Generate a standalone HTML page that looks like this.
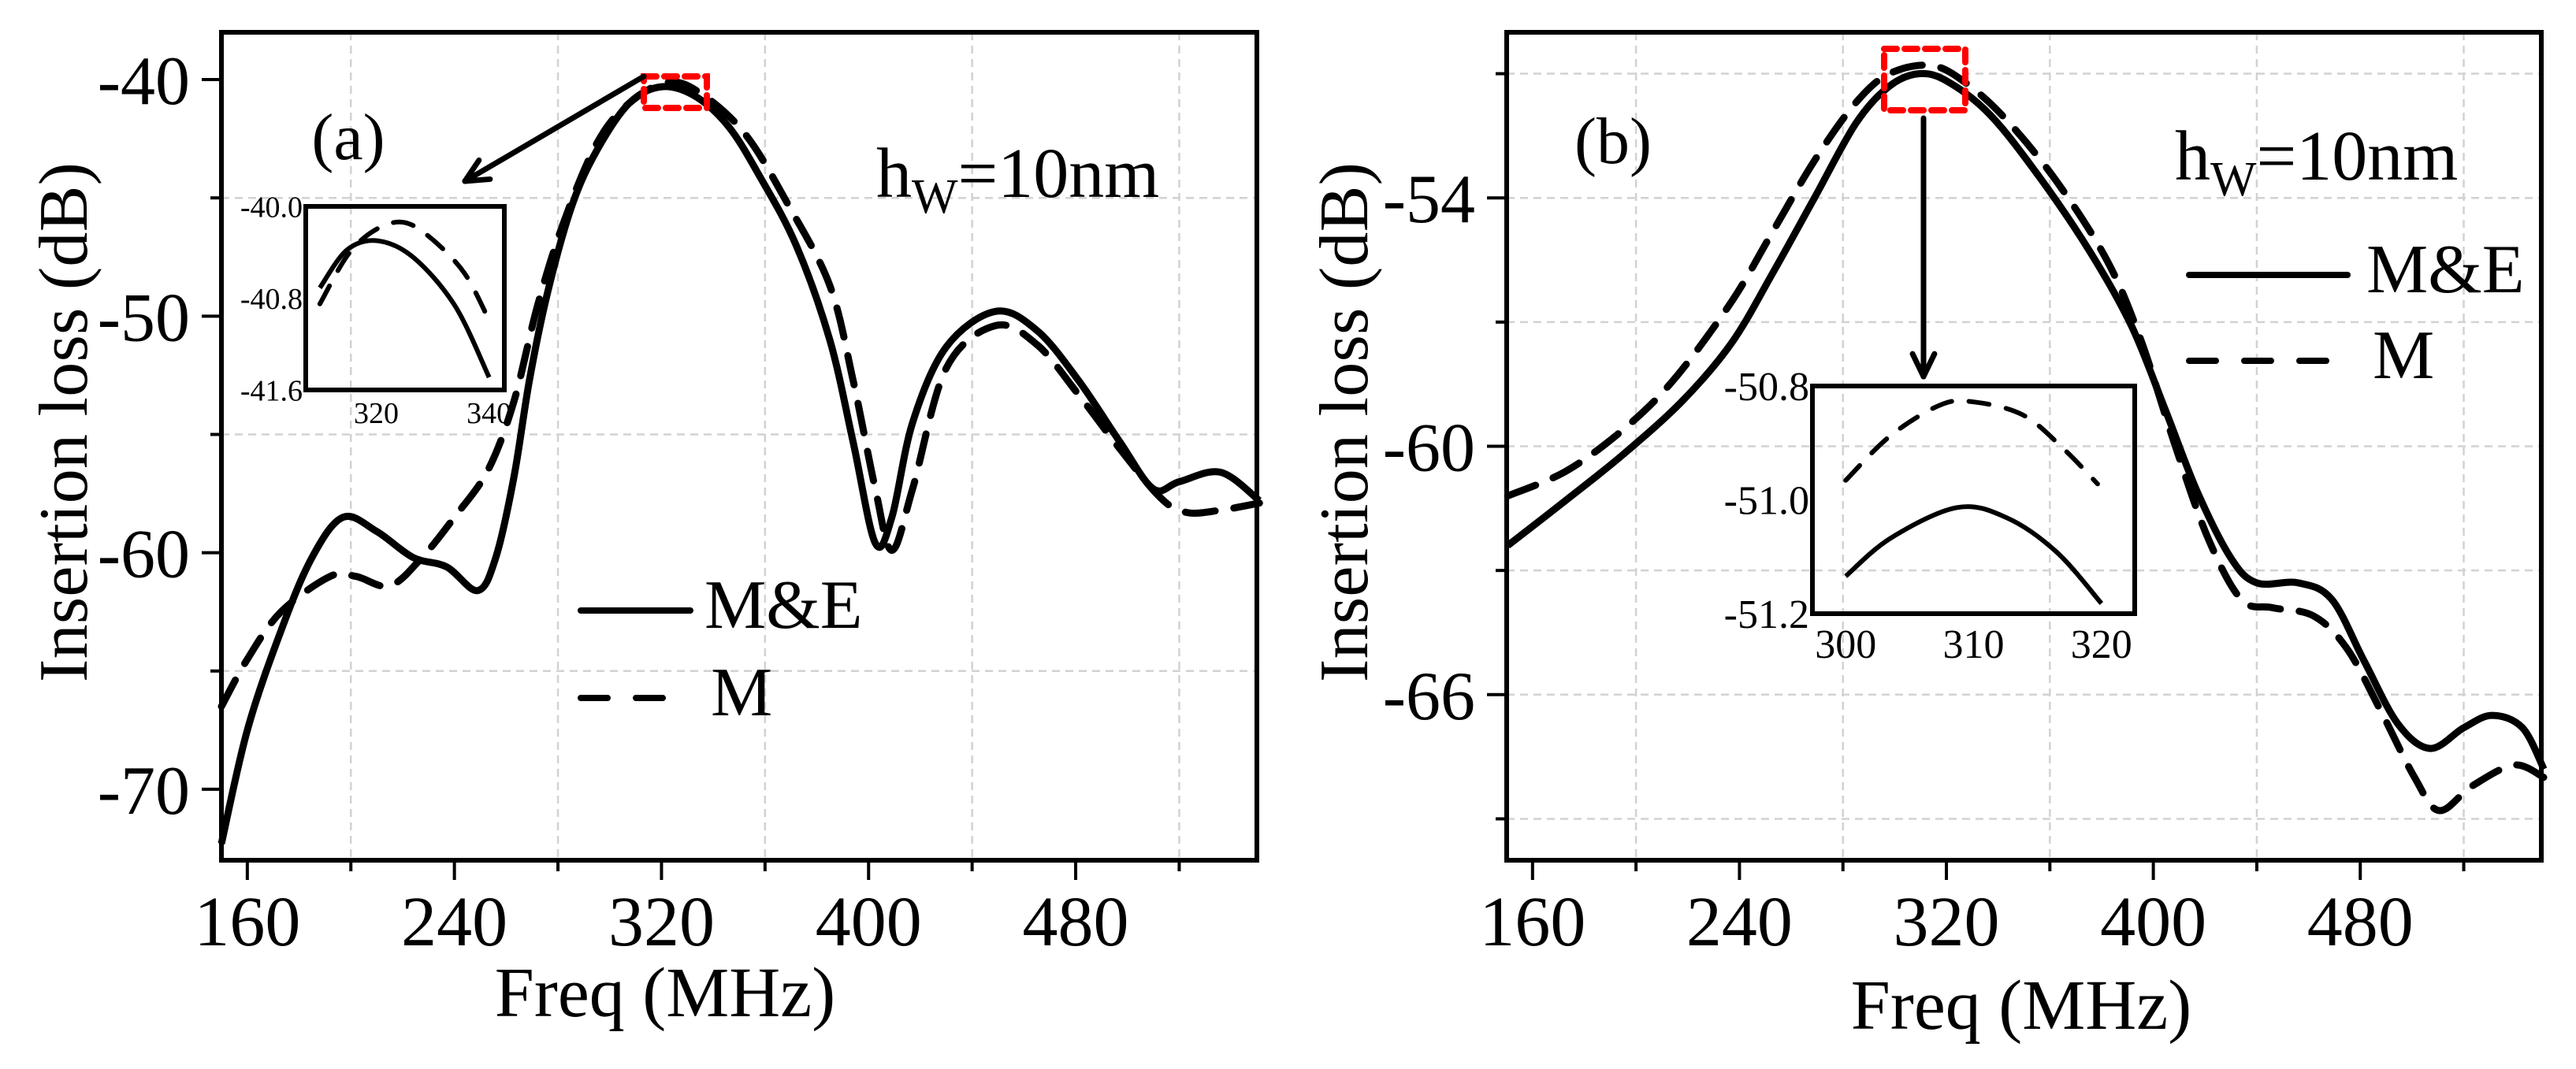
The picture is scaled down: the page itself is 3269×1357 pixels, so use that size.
<!DOCTYPE html>
<html><head><meta charset="utf-8"><style>
html,body{margin:0;padding:0;background:#fff;}
svg{display:block;font-family:"Liberation Serif","DejaVu Serif",serif;}
</style></head><body>
<svg id="fig" width="3269" height="1357" viewBox="0 0 3269 1357" xmlns="http://www.w3.org/2000/svg"></svg>
<script>
// ---- Panel (a) data ----
const aFreqSolid = [150,160,173,185,197,210,224,237,249,256,263,269,276,285.5,295,307.5,320,333,346,358,372,385,394,402.6,409,417,430,449,465,481,497,510,520,536,551];
const aLossSolid = [-72.3,-67.5,-63.3,-60.2,-58.5,-59.1,-60.2,-60.6,-61.6,-60.2,-56.8,-52.7,-49,-45.3,-43,-41,-40.3,-40.7,-42,-44.1,-47,-51,-55.3,-59.6,-58.5,-54.5,-51.3,-49.8,-50.6,-52.7,-55.3,-57.3,-57,-56.6,-57.8];
const aFreqDash = [150,160,173,192,202,215,227.5,240,253,263,272,282,295,307.5,323,336.7,353,369,385,394,402.6,409,417,430,449,465,481,497,513,523,536,551];
const aLossDash = [-66.5,-64.5,-62.5,-61,-61,-61.4,-60.2,-58.5,-56.5,-53.6,-49.6,-46.1,-42.7,-41,-40.1,-40.7,-42.4,-45.3,-48.7,-52.7,-57.3,-59.9,-57.3,-52.2,-50.4,-51.2,-53.3,-55.6,-57.7,-58.3,-58.2,-57.9];
const aXTicks = [160,240,320,400,480];
const aYTicks = [-40,-50,-60,-70];
const aInsetFreqSolid = [310,314.8,320.3,326.7,334,340];
const aInsetLossSolid = [-40.71,-40.38,-40.30,-40.45,-40.87,-41.49];
const aInsetFreqDash = [310,315,320,325,330,335.6,339.7];
const aInsetLossDash = [-40.85,-40.42,-40.2,-40.14,-40.29,-40.58,-40.96];
const aInsetXTicks = [320,340];
const aInsetYTicks = ["-40.0","-40.8","-41.6"];
// ---- Panel (b) data ----
const bFreqSolid = [150.4,173,195,218,237,253,269,285,298,309.6,320.8,337,356,375.5,391.6,404.5,417,430,440,456,469,481.6,494.5,507,520,531,542.7,551];
const bLossSolid = [-62.4,-61.3,-60.2,-58.9,-57.5,-55.8,-54,-52.2,-51.3,-51,-51.2,-52,-53.5,-55.3,-57.1,-59.1,-61.1,-62.7,-63.3,-63.3,-63.7,-65.2,-66.7,-67.3,-66.8,-66.5,-66.8,-67.8];
const bFreqDash = [150.4,173,195,214.5,237,253,269,285,298,314,327,343,362.6,382,395,408,421,434,446,462,475,488,501,510.5,523.4,539.5,551];
const bLossDash = [-61.2,-60.6,-59.6,-58.4,-56.5,-54.8,-53.1,-51.7,-51,-50.8,-51.2,-52.1,-53.6,-55.5,-57.4,-59.9,-62.2,-63.7,-63.9,-64.1,-64.9,-66.4,-68,-68.8,-68.2,-67.7,-68];
const bXTicks = [160,240,320,400,480];
const bYTicks = [-54,-60,-66];
const bInsetFreqSolid = [300,303.5,308.7,312.6,316.5,320];
const bInsetLossSolid = [-51.147,-51.073,-51.013,-51.033,-51.1,-51.2];
const bInsetFreqDash = [300,303.5,307.4,310,313.9,317.1,319.7];
const bInsetLossDash = [-50.96,-50.873,-50.813,-50.807,-50.833,-50.9,-50.967];
const bInsetXTicks = [300,310,320];
const bInsetYTicks = ["-50.8","-51.0","-51.2"];

const NS="http://www.w3.org/2000/svg";
const svg=document.getElementById('fig');
function mk(tag,attrs,parent){const e=document.createElementNS(NS,tag);for(const k in attrs)e.setAttribute(k,attrs[k]);(parent||svg).appendChild(e);return e;}
function lin(d0,d1,r0,r1){return v=>r0+(v-d0)*(r1-r0)/(d1-d0);}
function smooth(xs,ys){let d='M'+xs[0].toFixed(1)+','+ys[0].toFixed(1);
 for(let i=0;i<xs.length-1;i++){const x0=xs[Math.max(i-1,0)],y0=ys[Math.max(i-1,0)],x1=xs[i],y1=ys[i],x2=xs[i+1],y2=ys[i+1],x3=xs[Math.min(i+2,xs.length-1)],y3=ys[Math.min(i+2,xs.length-1)];
  d+=' C'+(x1+(x2-x0)/6).toFixed(1)+','+(y1+(y2-y0)/6).toFixed(1)+' '+(x2-(x3-x1)/6).toFixed(1)+','+(y2-(y3-y1)/6).toFixed(1)+' '+x2.toFixed(1)+','+y2.toFixed(1);}
 return d;}
function txt(s,x,y,size,anchor,parent){const t=mk('text',{x:x,y:y,'font-size':size,'text-anchor':anchor||'middle',fill:'#000'},parent);t.textContent=s;return t;}

function panel(P){
 const g=mk('g',{});
 
 
 const X=lin(P.xd[0],P.xd[1],P.L,P.R), Y=lin(P.yd[0],P.yd[1],P.B,P.T);
 const grid=mk('g',{stroke:'#d2d2d2','stroke-width':2.5,'stroke-dasharray':'10,7'},g);
 
 
 for(let v=200;v<P.xd[1];v+=80)mk('line',{x1:X(v),x2:X(v),y1:P.T,y2:P.B},grid);
 P.yGrid.forEach(v=>mk('line',{x1:P.L,x2:P.R,y1:Y(v),y2:Y(v)},grid));
 const cs=mk('path',{d:smooth(P.fs.map(X),P.ls.map(Y)),fill:'none',stroke:'#000','stroke-width':9,'stroke-linejoin':'round'},g);
 
 
 const cd=mk('path',{d:smooth(P.fd.map(X),P.ld.map(Y)),fill:'none',stroke:'#000','stroke-width':9,'stroke-dasharray':'38,24','stroke-linecap':'round'},g);
 
 
 mk('rect',{x:P.L,y:P.T,width:P.R-P.L,height:P.B-P.T,fill:'none',stroke:'#000','stroke-width':6},g);
 for(let v=160;v<P.xd[1];v+=40){const maj=P.xt.includes(v);mk('line',{x1:X(v),x2:X(v),y1:P.B,y2:P.B+(maj?25:14),stroke:'#000','stroke-width':4},g);}
 P.xt.forEach(v=>{const t=txt(String(v),X(v),1200,90,'middle',g);});
 for(let v=P.yg0;v<=P.yd[1];v+=P.yStep/2){const maj=P.yt.includes(v);mk('line',{x1:P.L,x2:P.L-(maj?25:14),y1:Y(v),y2:Y(v),stroke:'#000','stroke-width':4},g);}
 P.yt.forEach(v=>{const t=txt(String(v),P.L-40,Y(v)+31,88,'end',g);});
 const xt=txt('Freq (MHz)',P.xtx,P.xty,90,'middle',g);
 
 
 const yt=txt('Insertion loss (dB)',0,0,88,'middle',g);
 yt.setAttribute('transform','translate('+P.ytx+',536) rotate(-90)');
 yt.setAttribute('textLength','660');
 
 
 const pl=txt(P.label,P.lx,P.ly,84,'middle',g);
 
 
 const hw=mk('text',{x:P.hx,y:P.hy,'font-size':90,fill:'#000'},g);
 
 
 hw.innerHTML='h<tspan font-size="62" dy="20">W</tspan><tspan dy="-20">=10nm</tspan>';
 const lg=mk('g',{},g);
 
 
 mk('line',{x1:P.lg[0],x2:P.lg[1],y1:P.lg[2],y2:P.lg[2],stroke:'#000','stroke-width':8,'stroke-linecap':'round'},lg);
 txt('M&E',P.lg[3],P.lg[2]+22,88,'start',lg);
 mk('line',{x1:P.lg[0],x2:P.lg[4],y1:P.lg[5],y2:P.lg[5],stroke:'#000','stroke-width':8,'stroke-linecap':'round','stroke-dasharray':'34,36'},lg);
 txt('M',P.lg[3]+8,P.lg[5]+22,88,'start',lg);
 const rb=mk('rect',{x:P.rb[0],y:P.rb[1],width:P.rb[2],height:P.rb[3],fill:'none',stroke:'#f00','stroke-width':8,'stroke-dasharray':'16,10','stroke-linecap':'round'},g);
 
 
 const ar=mk('g',{stroke:'#000','stroke-width':7,'stroke-linecap':'round',fill:'none'},g);
 
 
 const [ax1,ay1,ax2,ay2]=P.ar; mk('line',{x1:ax1,y1:ay1,x2:ax2,y2:ay2},ar);
 const ang=Math.atan2(ay2-ay1,ax2-ax1);
 [0.45,-0.45].forEach(da=>{mk('line',{x1:ax2,y1:ay2,x2:ax2-32*Math.cos(ang+da),y2:ay2-32*Math.sin(ang+da)},ar);});
 const I=P.inset, ig=mk('g',{},g);
 
 
 const IX=lin(I.xd[0],I.xd[1],I.L,I.R), IY=lin(I.yd[0],I.yd[1],I.B,I.T);
 mk('path',{d:smooth(I.fs.map(IX),I.ls.map(IY)),fill:'none',stroke:'#000','stroke-width':6},ig);
 mk('path',{d:smooth(I.fd.map(IX),I.ld.map(IY)),fill:'none',stroke:'#000','stroke-width':6,'stroke-dasharray':'26,22','stroke-linecap':'round'},ig);
 mk('rect',{x:I.L,y:I.T,width:I.R-I.L,height:I.B-I.T,fill:'none',stroke:'#000','stroke-width':6},ig);
 I.xt.forEach(v=>txt(String(v),IX(v),I.B+I.fs2+4,I.fs2,'middle',ig));
 I.yt.forEach((s,i)=>{const yy=I.T+(I.B-I.T)*i/(I.yt.length-1);txt(s,I.L-4,yy+I.fs2*0.35,I.fs2,'end',ig);});
}

panel({name:'panel-a',L:281,R:1595,T:41,B:1092,xd:[150,550],yd:[-73,-38],yg0:-70,yStep:10,yGrid:[-45,-55,-65],
 fs:aFreqSolid,ls:aLossSolid,fd:aFreqDash,ld:aLossDash,xt:aXTicks,yt:aYTicks,xtx:844,xty:1290,ytx:110,
 label:'(a)',lx:442,ly:202,hx:1112,hy:250,lg:[737,876,775,894,845,886],
 rb:[817,97,80,40],ar:[817,97,590,230],
 inset:{L:388,R:640,T:262,B:495,xd:[307.5,342.7],yd:[-41.6,-40.0],fs:aInsetFreqSolid,ls:aInsetLossSolid,fd:aInsetFreqDash,ld:aInsetLossDash,xt:aInsetXTicks,yt:aInsetYTicks,fs2:38}});

panel({name:'panel-b',L:1912,R:3225,T:41,B:1092,xd:[150,550],yd:[-70,-50],yg0:-69,yStep:6,yGrid:[-51,-54,-57,-60,-63,-66,-69],
 fs:bFreqSolid,ls:bLossSolid,fd:bFreqDash,ld:bLossDash,xt:bXTicks,yt:bYTicks,xtx:2565,xty:1306,ytx:1735,
 label:'(b)',lx:2047,ly:207,hx:2760,hy:228,lg:[2778,2979,349,3003,2959,458],
 rb:[2391,62,103,78],ar:[2441,150,2441,478],
 inset:{L:2300,R:2709,T:490,B:779,xd:[297.4,322.6],yd:[-51.22,-50.776],fs:bInsetFreqSolid,ls:bInsetLossSolid,fd:bInsetFreqDash,ld:bInsetLossDash,xt:bInsetXTicks,yt:bInsetYTicks,fs2:52}});
</script>
</body></html>
